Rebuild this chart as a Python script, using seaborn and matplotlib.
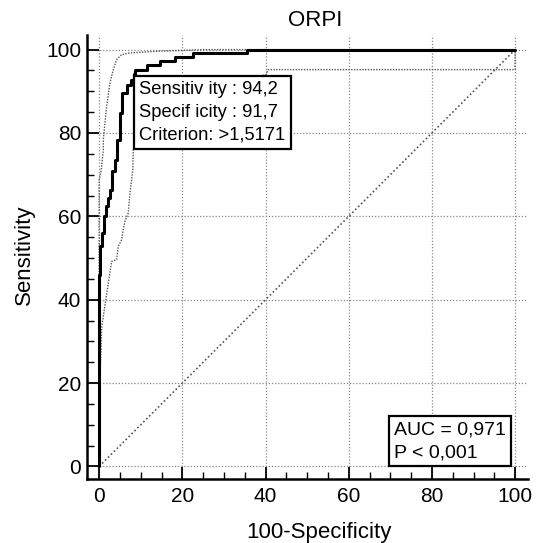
import numpy as np
import pandas as pd
import matplotlib
matplotlib.use("Agg")
import matplotlib.pyplot as plt
from matplotlib.ticker import MultipleLocator
import seaborn as sns

# ---- data ----
roc_fpr = [0, 0, 0.3, 0.7, 1.2, 1.6, 2.1, 2.5, 3.2, 3.8, 4.3, 4.9, 5.6, 6.6, 7.6, 8.3, 8.6, 11.4, 14.6, 18.2, 22.6, 35.5, 100]
roc_tpr = [0, 46, 52.8, 56, 60, 62.5, 64.4, 66.4, 70.8, 73.6, 78.4, 84.8, 89.6, 91.6, 92.8, 94.2, 95.0, 96.2, 97.2, 98.3, 99.2, 100, 100]

upper_fpr = [0, 0, 0.3, 0.6, 1.0, 1.0, 1.8, 2.6, 3.4, 4.2, 5.4, 7.4, 13.8, 25, 100]
upper_tpr = [0, 68.8, 70, 72, 76, 78.4, 86.4, 92, 95.2, 97.6, 98.8, 99.2, 99.6, 100, 100]

lower_fpr = [0, 0.24, 0.64, 1.6, 2.2, 3.0, 4.2, 4.6, 5.4, 5.8, 6.2, 7.0, 7.4, 8.1, 8.2, 9.1, 10.5, 14, 20, 30, 38, 40.1, 40.6, 100, 100]
lower_tpr = [0, 22.4, 33.6, 40, 44, 49.2, 49.6, 52.8, 54.4, 56.8, 58.8, 60.8, 65.6, 71.2, 76, 81.2, 84, 88, 90, 92, 93.5, 94, 95.2, 95.2, 100]

diag = [0, 100]

title = "ORPI"
xlabel = "100-Specificity"
ylabel = "Sensitivity"
ticks = [0, 20, 40, 60, 80, 100]
crit_text = "Sensitiv ity : 94,2\nSpecif icity : 91,7\nCriterion: >1,5171"
auc_text = "AUC = 0,971\nP < 0,001"

# ---- style ----
sns.set_theme(style="white")
plt.rcParams["font.family"] = ["Liberation Sans", "DejaVu Sans"]
plt.rcParams["text.color"] = "black"
plt.rcParams["axes.labelcolor"] = "black"
plt.rcParams["xtick.color"] = "black"
plt.rcParams["ytick.color"] = "black"

fig = plt.figure(figsize=(5.4, 5.43), dpi=100)
ax = fig.add_axes([0.1605, 0.1179, 0.8173, 0.8176])

roc_df = pd.DataFrame({"fpr": roc_fpr, "tpr": roc_tpr})
up_df = pd.DataFrame({"fpr": upper_fpr, "tpr": upper_tpr})
lo_df = pd.DataFrame({"fpr": lower_fpr, "tpr": lower_tpr})
dg_df = pd.DataFrame({"fpr": diag, "tpr": diag})

sns.lineplot(data=dg_df, x="fpr", y="tpr", ax=ax, estimator=None, sort=False,
             color="#555555", lw=1.2, linestyle=(0, (1, 1.5)), zorder=2)
sns.lineplot(data=up_df, x="fpr", y="tpr", ax=ax, estimator=None, sort=False,
             color="#555555", lw=1.0, linestyle=(0, (1, 1)), zorder=3)
sns.lineplot(data=lo_df, x="fpr", y="tpr", ax=ax, estimator=None, sort=False,
             color="#555555", lw=1.0, linestyle=(0, (1, 1)), zorder=3)
sns.lineplot(data=roc_df, x="fpr", y="tpr", ax=ax, estimator=None, sort=False,
             color="black", lw=2.2, drawstyle="steps-post", zorder=4)

ax.set_xlim(-3, 103.1)
ax.set_ylim(-3, 103.5)
ax.set_xticks(ticks)
ax.set_yticks(ticks)
ax.xaxis.set_minor_locator(MultipleLocator(5))
ax.yaxis.set_minor_locator(MultipleLocator(5))
ax.tick_params(which="major", direction="in", length=8.6, width=1.3,
               labelsize=15, colors="black", pad=4, bottom=True, left=True)
ax.tick_params(which="minor", direction="in", length=4.8, width=1.0,
               colors="black", bottom=True, left=True)
ax.tick_params(axis="x", pad=6)

for s in ["top", "right"]:
    ax.spines[s].set_visible(False)
for s in ["left", "bottom"]:
    ax.spines[s].set_linewidth(1.8)
    ax.spines[s].set_color("black")

ax.grid(True, which="major", color="#8a8a8a", linestyle=(0, (1, 1.5)), lw=0.9)
ax.set_axisbelow(True)

ax.set_xlabel(xlabel, fontsize=16, color="black")
ax.set_ylabel(ylabel, fontsize=16, color="black")
ax.xaxis.set_label_coords(0.526, -0.1216)
ax.xaxis.label.set_va("center")
ax.yaxis.set_label_coords(-0.14, 0.5045)
ax.yaxis.label.set_va("center")

fig.text(315 / 540, 1 - 21 / 543, title, ha="center", va="center", fontsize=16, color="black")

ax.text(9.6, 92.4, crit_text, ha="left", va="top", fontsize=13.2, linespacing=1.45,
        color="black", zorder=6,
        bbox=dict(boxstyle="square,pad=0.3", fc="white", ec="black", lw=1.6))
ax.text(70.9, 1.3, auc_text, ha="left", va="bottom", fontsize=14, linespacing=1.45,
        color="black", zorder=6,
        bbox=dict(boxstyle="square,pad=0.28", fc="white", ec="black", lw=1.6))

fig.savefig("out.png", dpi=100)
